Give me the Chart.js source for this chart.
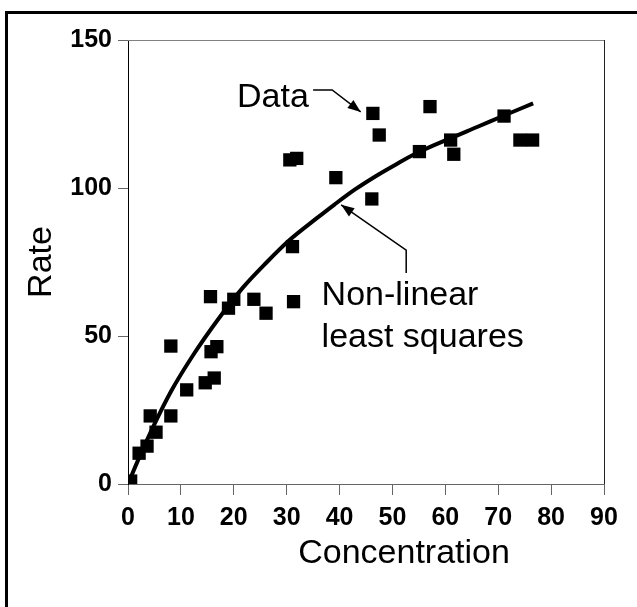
<!DOCTYPE html>
<html>
<head>
<meta charset="utf-8">
<title>Rate vs Concentration</title>
<script src="https://cdn.jsdelivr.net/npm/chart.js@4"></script>
<style>
  html, body { margin: 0; padding: 0; background: #fff; }
  #chart { display: block; }
</style>
</head>
<body>
<canvas id="chart" width="637" height="607"></canvas>
<script>
const concentration = [0.5, 2.1, 3.6, 4.2, 5.3, 8.1, 8.1, 11.1, 14.6, 16.3, 15.6, 15.7, 16.8, 19.0, 20.0, 23.8,
                       26.1, 30.6, 31.9, 31.1, 31.3, 39.3, 46.3, 46.1, 47.5, 55.1, 57.1, 61.0, 61.6, 71.1, 74.1, 76.5];
const rate = [1.0, 10.4, 12.8, 23.0, 17.5, 23.0, 46.6, 31.8, 34.2, 35.8, 63.3, 44.7, 46.4, 59.4, 62.4, 62.4,
              57.7, 109.5, 110.0, 80.2, 61.6, 103.5, 125.2, 96.3, 117.9, 112.3, 127.5, 116.2, 111.4, 124.3, 116.2, 116.2];

// Non-linear least squares curve
const fitConcentration = [0, 2.5, 4.8, 8.2, 12.3, 17.4, 21.8, 26, 30.6, 35.7, 39.1, 43, 47.3, 50.5, 54.6, 61.2, 66, 71, 76.6];
const fitRate = [0, 10.5, 19.5, 31.5, 43.5, 56.5, 66.5, 74.5, 82.5, 89.8, 94.5, 99.6, 104.5, 107.8, 111.8, 117, 120.6, 124.4, 128.6];

const xTicks = [0, 10, 20, 30, 40, 50, 60, 70, 80, 90];
const yTicks = [0, 50, 100, 150];

const xTitle = 'Concentration';
const yTitle = 'Rate';
const dataLabel = 'Data';
const fitLabel = ['Non-linear', 'least squares'];

Chart.defaults.font.family = '"Liberation Sans", Arial, Helvetica, sans-serif';
Chart.defaults.color = '#000';

// annotation anchors in data units
const notes = {
  dataText: [34.2, 127.4],
  dataArrow: [[35.0, 133.1], [38.6, 133.1], [44.0, 125.7]],
  fitText: [36.6, 60.5],
  fitLineGap: 42,
  fitArrow: [[52.6, 71.3], [52.6, 79.0], [40.3, 94.3]],
  xTitleAt: 52.2
};

function arrowPath(ctx, pts) {
  ctx.beginPath();
  ctx.moveTo(pts[0][0], pts[0][1]);
  for (let i = 1; i < pts.length; i++) ctx.lineTo(pts[i][0], pts[i][1]);
  ctx.stroke();
  const [x1, y1] = pts[pts.length - 2];
  const [x2, y2] = pts[pts.length - 1];
  const ang = Math.atan2(y2 - y1, x2 - x1);
  const len = 13, half = 5;
  ctx.beginPath();
  ctx.moveTo(x2, y2);
  ctx.lineTo(x2 - len * Math.cos(ang) + half * Math.sin(ang), y2 - len * Math.sin(ang) - half * Math.cos(ang));
  ctx.lineTo(x2 - len * Math.cos(ang) - half * Math.sin(ang), y2 - len * Math.sin(ang) + half * Math.cos(ang));
  ctx.closePath();
  ctx.fill();
}

const decorations = {
  id: 'decorations',
  beforeDraw(chart) {
    const ctx = chart.ctx;
    ctx.save();
    ctx.fillStyle = '#fff';
    ctx.fillRect(0, 0, chart.width, chart.height);
    // outer frame, runs off the right and bottom edges
    ctx.strokeStyle = '#000';
    ctx.lineWidth = 3;
    ctx.strokeRect(6.5, 12.5, chart.width + 20, chart.height + 20);
    ctx.restore();
  },
  afterDraw(chart) {
    const ctx = chart.ctx;
    const a = chart.chartArea;
    const xs = chart.scales.x, ys = chart.scales.y;
    const px = p => [xs.getPixelForValue(p[0]), ys.getPixelForValue(p[1])];
    ctx.save();

    // top and right plot border
    ctx.lineWidth = 1;
    ctx.strokeStyle = '#808080';
    ctx.beginPath();
    ctx.moveTo(a.left, a.top + 0.5);
    ctx.lineTo(a.right + 0.5, a.top + 0.5);
    ctx.stroke();
    ctx.strokeStyle = '#222';
    ctx.beginPath();
    ctx.moveTo(a.right + 0.5, a.top);
    ctx.lineTo(a.right + 0.5, a.bottom);
    ctx.stroke();

    // annotations
    ctx.fillStyle = '#000';
    ctx.strokeStyle = '#000';
    ctx.lineWidth = 1.5;
    ctx.font = '34px "Liberation Sans", Arial, sans-serif';
    ctx.textBaseline = 'alphabetic';

    let p = px(notes.dataText);
    ctx.textAlign = 'right';
    ctx.fillText(dataLabel, p[0], p[1]);
    arrowPath(ctx, notes.dataArrow.map(px));

    p = px(notes.fitText);
    ctx.textAlign = 'left';
    fitLabel.forEach((t, i) => ctx.fillText(t, p[0], p[1] + i * notes.fitLineGap));
    arrowPath(ctx, notes.fitArrow.map(px));

    // x axis title
    ctx.textAlign = 'center';
    ctx.fillText(xTitle, xs.getPixelForValue(notes.xTitleAt), a.bottom + 79);
    ctx.restore();
  }
};

const ctx = document.getElementById('chart');

new Chart(ctx, {
  type: 'scatter',
  data: {
    datasets: [
      {
        label: dataLabel,
        data: concentration.map((c, i) => ({ x: c, y: rate[i] })),
        pointStyle: 'rect',
        pointRadius: 9.4,
        backgroundColor: '#000',
        borderColor: '#000',
        borderWidth: 0,
        showLine: false
      },
      {
        label: 'Fit',
        data: fitConcentration.map((c, i) => ({ x: c, y: fitRate[i] })),
        showLine: true,
        pointRadius: 0,
        borderColor: '#000',
        borderWidth: 4,
        cubicInterpolationMode: 'monotone',
        fill: false
      }
    ]
  },
  options: {
    responsive: false,
    animation: false,
    layout: { padding: { left: 0, top: 40, right: 33, bottom: 0 } },
    plugins: {
      legend: { display: false },
      tooltip: { enabled: false }
    },
    scales: {
      x: {
        type: 'linear',
        min: 0,
        max: 90,
        afterBuildTicks: s => { s.ticks = xTicks.map(v => ({ value: v })); },
        afterFit: s => { s.height = 123; },
        grid: { drawOnChartArea: false, drawTicks: true, tickLength: 11, color: '#666' },
        border: { display: true, color: '#666', width: 1 },
        ticks: { font: { size: 25, weight: 'bold' }, color: '#000', padding: 8, maxRotation: 0 }
      },
      y: {
        type: 'linear',
        min: 0,
        max: 150,
        afterBuildTicks: s => { s.ticks = yTicks.map(v => ({ value: v })); },
        afterFit: s => { s.width = 128; },
        grid: { drawOnChartArea: false, drawTicks: true, tickLength: 10, color: '#666' },
        border: { display: true, color: '#000', width: 1 },
        ticks: { font: { size: 25, weight: 'bold' }, color: '#000', padding: 6 },
        title: {
          display: true,
          text: yTitle,
          font: { size: 34 },
          color: '#000',
          padding: { top: 21, bottom: 0 }
        }
      }
    }
  },
  plugins: [decorations]
});
</script>
</body>
</html>
